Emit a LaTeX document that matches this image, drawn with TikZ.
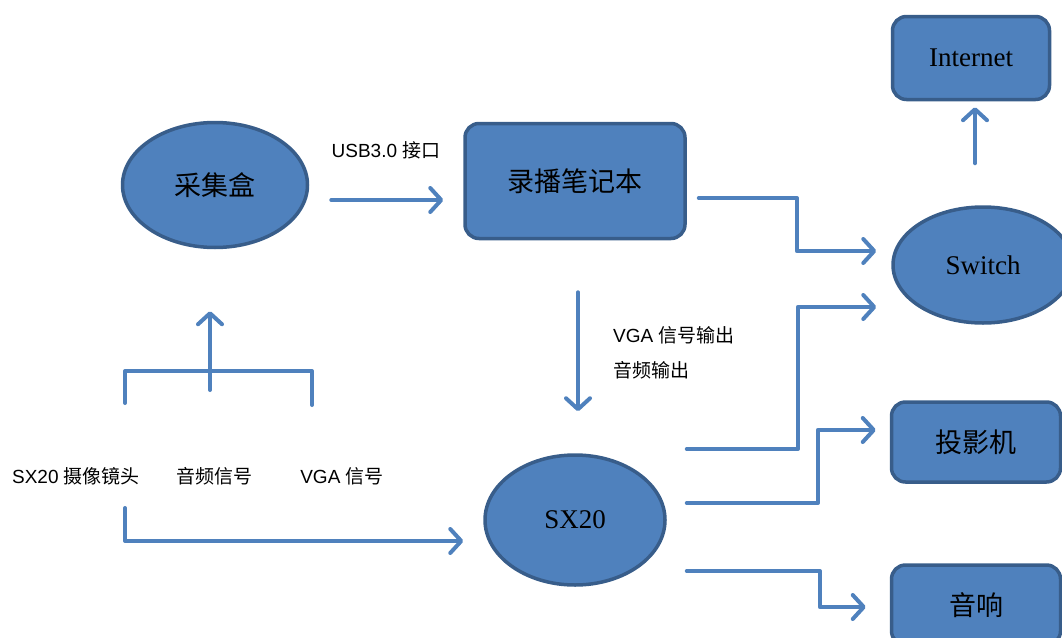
\documentclass[tikz,border=0pt]{standalone}
\usepackage{fontspec}
\setmainfont{Liberation Serif}
\newfontfamily\cjk{Noto Sans CJK SC}
\newfontfamily\lab{Liberation Sans}
\newcommand\zh[1]{{\cjk #1}}
\usetikzlibrary{shapes.geometric,arrows.meta}
\definecolor{bfill}{HTML}{4F81BD}
\definecolor{bdraw}{HTML}{385D8A}
\definecolor{lcol}{HTML}{4F81BD}
\tikzset{
  box/.style={draw=bdraw,fill=bfill,line width=3.5pt,rounded corners=14pt,font=\fontsize{27}{30}\selectfont,inner sep=0pt},
  oval/.style={draw=bdraw,fill=bfill,line width=3.5pt,ellipse,font=\fontsize{27}{30}\selectfont,inner sep=0pt},
  lbl/.style={font=\lab\fontsize{19}{22}\selectfont,inner sep=0pt},
  line/.style={draw=lcol,line width=4pt,line cap=round,line join=round},
  conn/.style={line,-{Straight Barb[length=11pt,width=24pt,line cap=round,line join=round]}}
}
\begin{document}
\begin{tikzpicture}[x=1pt,y=-1pt]
\useasboundingbox (0,0) rectangle (1062,637);
\clip (0,0) rectangle (1062,637);
% nodes
\node[oval,minimum width=185pt,minimum height=125pt] (cj) at (215,185) {\zh{采集盒}};
\node[box,minimum width=220pt,minimum height=115pt] (nb) at (575,181) {\zh{录播笔记本}};
\node[box,minimum width=157pt,minimum height=83pt] (inet) at (971,58) {Internet};
\node[oval,minimum width=180pt,minimum height=116pt] (sw) at (983,265) {Switch};
\node[box,minimum width=169pt,minimum height=80pt] (pj) at (976,442) {\zh{投影机}};
\node[box,minimum width=169pt,minimum height=80pt] (yx) at (976,605) {\zh{音响}};
\node[oval,minimum width=180pt,minimum height=130pt] (sx) at (575,520) {SX20};
% labels
\node[lbl] (usb) at (386,150) {USB3.0 \zh{接口}};
\node[lbl,anchor=west] (vga) at (613,335) {VGA \zh{信号输出}};
\node[lbl,anchor=west] (aud) at (613,370) {\zh{音频输出}};
\node[lbl] (t1) at (76,476) {SX20 \zh{摄像镜头}};
\node[lbl] (t2) at (214,476) {\zh{音频信号}};
\node[lbl] (t3) at (342,476) {VGA \zh{信号}};
% connectors
\draw[conn] ([shift={(22,15)}]cj.east) -- ([shift={(-20,19)}]nb.west);
\draw[conn] ([shift={(12,17)}]nb.east) -- ++(98,0) |- ([shift={(-15,-14)}]sw.west);
\draw[conn] ([shift={(3,52)}]nb.south) -- ([shift={(3,-42)}]sx.north);
\draw[conn] ([shift={(20,-71)}]sx.east) -- ++(111,0) |- ([shift={(-15,42)}]sw.west);
\draw[conn] ([shift={(20,-17)}]sx.east) -- ++(131,0) |- ([shift={(-14,-12)}]pj.west);
\draw[conn] ([shift={(20,51)}]sx.east) -- ++(133,0) |- ([shift={(-24,2)}]yx.west);
\draw[conn] ([shift={(-8,-42)}]sw.north) -- ([shift={(4,6)}]inet.south);
% bracket
\coordinate (bl) at (125,403);
\coordinate (br) at (312,405);
\coordinate (bk) at (210,390);
\draw[line] (bl) |- (312,371) -- (br);
\draw[conn] (bk) -- ([shift={(-5,62)}]cj.south);
% bottom
\coordinate (bs) at (125,508);
\draw[conn] (bs) |- ([shift={(-20,21)}]sx.west);
\end{tikzpicture}
\end{document}
